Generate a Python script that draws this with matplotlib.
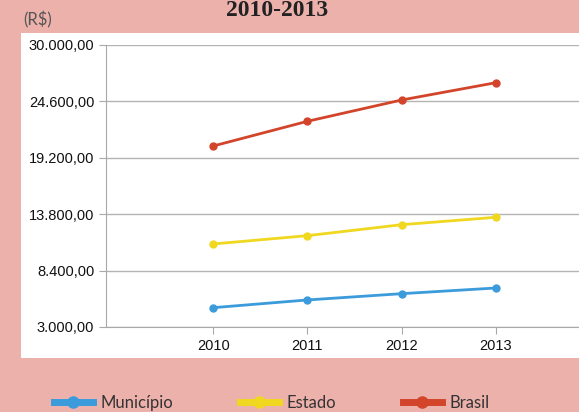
import matplotlib
matplotlib.use("Agg")
import matplotlib.pyplot as plt
from matplotlib.patches import Rectangle
from matplotlib.ticker import FuncFormatter

anos = [2010, 2011, 2012, 2013]
municipio = [4850, 5590, 6190, 6735]
estado = [10950, 11745, 12795, 13505]
brasil = [20330, 22695, 24735, 26390]
yticks = [3000, 8400, 13800, 19200, 24600, 30000]

series = [("Município", municipio, "#3b9bdb"),
          ("Estado", estado, "#f0d820"),
          ("Brasil", brasil, "#d2452b")]

bg = "#edb1ac"
fig = plt.figure(figsize=(5.79, 4.12), dpi=100, facecolor=bg)

# painel branco atras do grafico
fig.patches.append(Rectangle((21/579, 54/412), 1 - 21/579, 325/412,
                             transform=fig.transFigure, facecolor="white",
                             edgecolor="none", zorder=-5))

ax = fig.add_axes([106/579, 85/412, 1 - 106/579, 282/412])
ax.set_facecolor("white")

for nome, vals, cor in series:
    ax.plot(anos, vals, color=cor, lw=2, marker="o", ms=5, label=nome)

def fmt(v, pos):
    s = f"{v:,.2f}"
    return s.replace(",", "X").replace(".", ",").replace("X", ".")

ax.set_ylim(3000, 30000)
ax.set_yticks(yticks)
ax.yaxis.set_major_formatter(FuncFormatter(fmt))
ax.set_xlim(2010 - 107/94, 2013 + 83/94)
ax.set_xticks(anos)
ax.grid(axis="y", color="#b4b4b4", lw=1)
ax.set_axisbelow(True)
for s in ["top", "right"]:
    ax.spines[s].set_visible(False)
for s in ["left", "bottom"]:
    ax.spines[s].set_color("#a8a8a8")
ax.tick_params(colors="#a8a8a8", labelcolor="#111111", length=5,
               labelsize=10.5)
for lbl in ax.get_xticklabels() + ax.get_yticklabels():
    lbl.set_fontfamily("Liberation Sans")

fig.text(277/579, 1 - 10/412, "2010-2013", ha="center", va="center",
         fontsize=17, fontweight="bold", family="Liberation Serif",
         color="#222222")
fig.text(23/579, 1 - 20/412, "(R$)", ha="left", va="center", fontsize=12,
         family="Lato", color="#555555")

handles, labels = ax.get_legend_handles_labels()
leg = fig.legend(handles, labels, loc="center", ncol=3,
                 bbox_to_anchor=(0.47, 9/412), frameon=False,
                 prop={"family": "Lato", "size": 12}, handlelength=2.3,
                 columnspacing=4.0, handletextpad=0.5)
for h in leg.legend_handles:
    h.set_linewidth(5)
    h.set_markersize(8)
for t in leg.get_texts():
    t.set_color("#333333")

fig.savefig("out.png", dpi=100, facecolor=bg)
